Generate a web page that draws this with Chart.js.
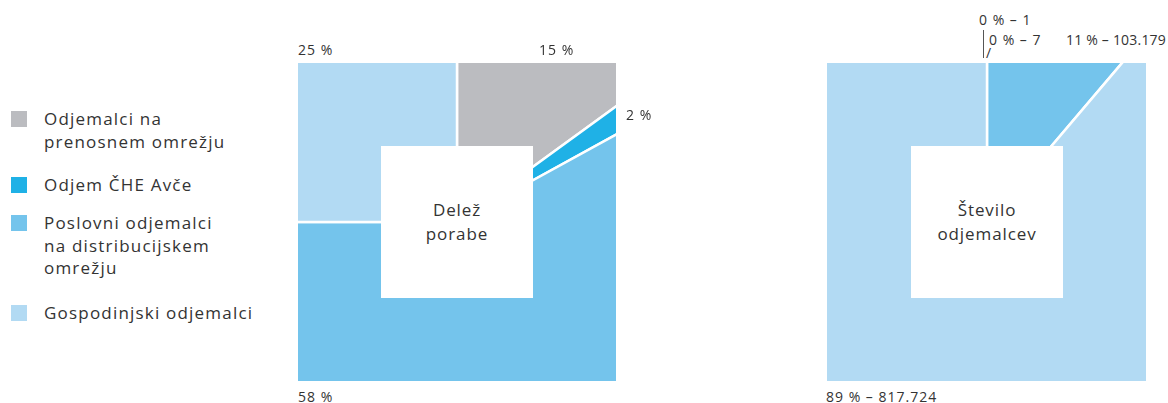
<!DOCTYPE html>
<html>
<head>
<meta charset="utf-8">
<script src="https://cdn.jsdelivr.net/npm/chart.js@4"></script>
<style>
  body { margin: 0; width: 1168px; height: 403px; background: #fff; position: relative; overflow: hidden;
         font-family: "Open Sans", sans-serif; color: #333; }
  .sq { position: absolute; overflow: hidden; width: 318px; height: 318px; top: 63px; }
  .sq canvas { position: absolute; left: -71px; top: -71px; }
  .hole { position: absolute; background: #fff; width: 152px; height: 152px; display: flex;
          align-items: center; justify-content: center; text-align: center; font-size: 17px; line-height: 24px;
          letter-spacing: 0.9px; }
  .lbl { position: absolute; font-size: 14px; white-space: nowrap; line-height: 16px; letter-spacing: 1px; }
  .leg { position: absolute; left: 11px; }
  .leg span { position: absolute; left: 0; width: 16px; height: 16px; }
  .leg div { position: absolute; left: 33px; font-size: 17px; line-height: 22.5px; white-space: nowrap;
             letter-spacing: 1.2px; }
</style>
</head>
<body>
<div id="legend"></div>

<div class="sq" style="left:298px"><canvas id="porabaChart" width="460" height="460"></canvas></div>
<div class="hole" style="left:381px;top:146px">Delež<br>porabe</div>

<div class="sq" style="left:827px;width:319px"><canvas id="odjemChart" width="460" height="460" style="left:-70.5px"></canvas></div>
<div class="hole" style="left:911px;top:146px">Število<br>odjemalcev</div>

<div class="lbl" style="left:298px;top:42px">25 %</div>
<div class="lbl" style="left:539px;top:42px">15 %</div>
<div class="lbl" style="left:626px;top:107px">2 %</div>
<div class="lbl" style="left:298px;top:389px">58 %</div>

<div class="lbl" style="left:979px;top:12px">0 % – 1</div>
<div class="lbl" style="left:989px;top:32px">0 % – 7</div>
<div class="lbl" style="left:986px;top:45px">/</div>
<div style="position:absolute;left:983px;top:30px;width:1px;height:28px;background:#555"></div>
<div class="lbl" style="left:1066px;top:32px;letter-spacing:0.2px">11 % – 103.179</div>
<div class="lbl" style="left:826px;top:389px">89 % – 817.724</div>

<script>
const categories = [
  "Odjemalci na prenosnem omrežju",
  "Odjem ČHE Avče",
  "Poslovni odjemalci na distribucijskem omrežju",
  "Gospodinjski odjemalci"
];
const legendLines = [
  ["Odjemalci na", "prenosnem omrežju"],
  ["Odjem ČHE Avče"],
  ["Poslovni odjemalci", "na distribucijskem", "omrežju"],
  ["Gospodinjski odjemalci"]
];
const colors = ["#bbbcc0", "#1fb1e6", "#74c4ec", "#b2daf3"];

// delež porabe (%)
const porabaShare = [15, 2, 58, 25];
// število odjemalcev
const odjemCount = [1, 7, 103179, 817724];

const legendTops = [111, 177, 215, 305];

function renderLegend() {
  const box = document.getElementById("legend");
  categories.forEach((c, i) => {
    const item = document.createElement("div");
    item.className = "leg";
    item.style.top = legendTops[i] + "px";
    item.innerHTML = '<span style="background:' + colors[i] + '"></span>' +
      '<div style="top:-3px">' + legendLines[i].join("<br>") + '</div>';
    box.appendChild(item);
  });
}

function renderSquarePie(ctxId, values) {
  const ctx = document.getElementById(ctxId).getContext("2d");
  new Chart(ctx, {
    type: 'pie',
    data: {
      labels: categories,
      datasets: [{
        data: values,
        backgroundColor: colors,
        borderColor: '#fff',
        borderWidth: 2.5
      }]
    },
    options: {
      responsive: false,
      animation: false,
      layout: { padding: 0 },
      plugins: {
        legend: { display: false },
        tooltip: { enabled: false }
      }
    }
  });
}

renderLegend();
renderSquarePie("porabaChart", porabaShare);
renderSquarePie("odjemChart", odjemCount);
</script>
</body>
</html>
